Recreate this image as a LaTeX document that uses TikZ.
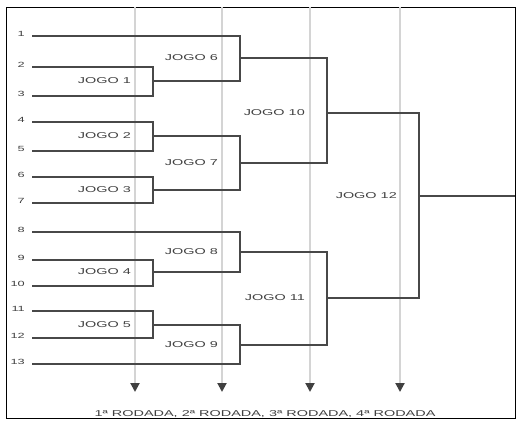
\documentclass[tikz,border=0pt]{standalone}
\usepackage{fontspec}
\newfontfamily\rotulofont[FakeStretch=1.7]{Liberation Sans}
\definecolor{cinzaChave}{RGB}{72,72,72}
\definecolor{cinzaGuia}{RGB}{212,212,212}
\usetikzlibrary{arrows.meta, positioning}

\begin{document}
\begin{tikzpicture}[
  x=1pt, y=-1pt,
  chave/.style={draw=cinzaChave, line width=1.1pt},
  guia/.style={draw=cinzaGuia, line width=2pt,
               -{Triangle[color=black!75, width=9pt, length=9pt]}},
  jogo/.style={font=\rotulofont\fontsize{8.5}{10}\selectfont,
               text=black!75, inner sep=0pt},
  equipe/.style={font=\rotulofont\fontsize{7.5}{9}\selectfont,
                 text=black!75, inner sep=0pt}
]
\useasboundingbox (0,0) rectangle (518,422);

% Moldura
\draw[line width=0.9pt] (6,7) rectangle (515,418);

% Linhas das rodadas
\foreach \x in {135,222,310,400}
  \draw[guia] (\x,7.5) -- (\x,392);

% Entradas 1-13
\foreach \n/\y in {1/36,2/67,3/96,4/122,5/151,6/177,7/203,
                   8/232,9/260,10/286,11/311,12/338,13/364}
  \coordinate (s\n) at (32,\y);
\foreach \n in {1,...,13}
  \node[equipe, left=7pt of s\n, yshift=2pt] (n\n) {\n};

% Saidas dos jogos
\coordinate (j1) at (153,81);
\coordinate (j2) at (153,136);
\coordinate (j3) at (153,190);
\coordinate (j4) at (153,272);
\coordinate (j5) at (153,325);
\coordinate (j6) at (240,58);
\coordinate (j7) at (240,163);
\coordinate (j8) at (240,252);
\coordinate (j9) at (240,345);
\coordinate (j10) at (327,113);
\coordinate (j11) at (327,298);
\coordinate (j12) at (419,196);
\coordinate (fim) at (515,196);

% 1a rodada
\draw[chave] (s2) -| (j1) |- (s3);
\draw[chave] (s4) -| (j2) |- (s5);
\draw[chave] (s6) -| (j3) |- (s7);
\draw[chave] (s9) -| (j4) |- (s10);
\draw[chave] (s11) -| (j5) |- (s12);

% 2a rodada
\draw[chave] (s1) -| (j6) |- (j1);
\draw[chave] (j2) -| (j7) |- (j3);
\draw[chave] (s8) -| (j8) |- (j4);
\draw[chave] (j5) -| (j9) |- (s13);

% 3a e 4a rodadas
\draw[chave] (j6) -| (j10) |- (j7);
\draw[chave] (j8) -| (j11) |- (j9);
\draw[chave] (j10) -| (j12) |- (j11);
\draw[chave] (j12) -- (fim);

% Rotulos dos jogos
\foreach \j in {1,...,12}
  \node[jogo, left=22pt of j\j] (rot\j) {JOGO \j};

\node[jogo, anchor=base] (rodadas) at (265,416.5)
  {1ª RODADA, 2ª RODADA, 3ª RODADA, 4ª RODADA};

\end{tikzpicture}
\end{document}
